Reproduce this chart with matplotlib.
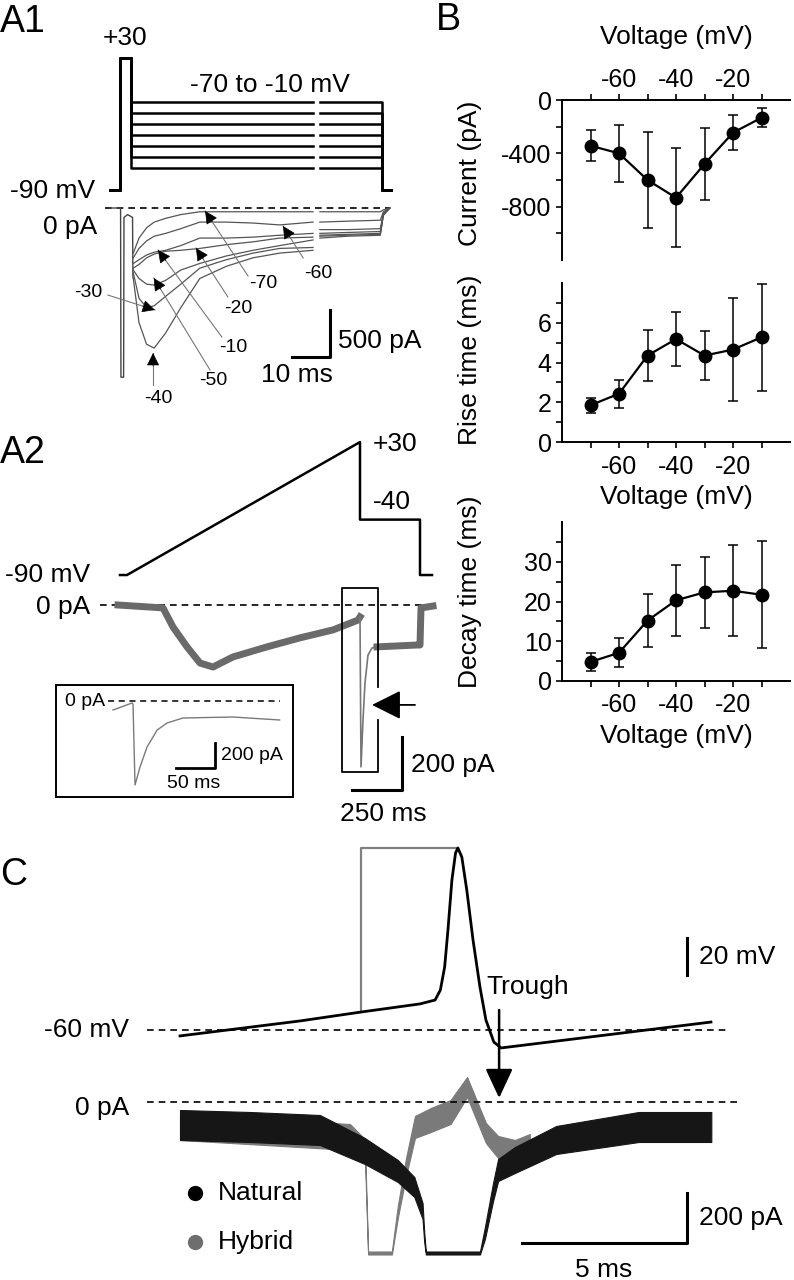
import matplotlib
matplotlib.use('Agg')
import matplotlib.pyplot as plt
import numpy as np

plt.rcParams['font.family'] = ['Liberation Sans', 'DejaVu Sans']
plt.rcParams['font.size'] = 19
plt.rcParams['axes.unicode_minus'] = False

W, H = 794, 1280

# ---------------- B: summary data (mean +- sd) ----------------
volts = [-70, -60, -50, -40, -30, -20, -10]
peak_current = [-343, -400, -600, -733, -480, -245, -133]
peak_current_sd = [118, 212, 357, 370, 270, 130, 70]
rise_time = [1.85, 2.43, 4.35, 5.18, 4.35, 4.65, 5.27]
rise_time_sd = [0.38, 0.70, 1.30, 1.34, 1.22, 2.58, 2.70]
decay_time = [4.8, 7.1, 15.2, 20.3, 22.3, 22.7, 21.7]
decay_time_sd = [2.3, 3.6, 6.7, 9.0, 8.9, 11.4, 13.4]

# ---------------- A1: step protocol (ms, mV) and currents (pA) ----------------
a1_steps = [-70, -60, -50, -40, -30, -20, -10]
a1_hold = -90
a1_pre = 30
a1_t_protocol = [-2.6, 0, 3, 50.8, 52.6, 69, 71.3]   # start, pre on, step on, break, resume, off, end
a1_transient_t = [-2.6, 0.15, 0.25, 0.95, 1.05, 2.0, 3.3, 3.4]
a1_transient_pa = [0, 0, -1800, -1800, -100, -70, -100, -740]
a1_t_early = [3.5, 5, 7, 9, 12, 16, 21, 28, 35, 42, 50.8]
a1_t_late = [52.6, 60, 68.5, 69.3, 71.0]
a1_early = {
    -70: [-480, -320, -210, -150, -110, -70, -40, -40, -40, -40, -40],
    -60: [-530, -430, -350, -300, -270, -220, -150, -150, -160, -180, -150],
    -20: [-590, -550, -500, -470, -450, -400, -320, -320, -310, -290, -270],
    -10: [-640, -600, -530, -490, -460, -450, -430, -390, -360, -320, -310],
    -50: [-660, -750, -810, -820, -770, -660, -590, -510, -450, -400, -340],
    -30: [-690, -960, -1060, -1040, -940, -810, -640, -550, -480, -430, -420],
    -40: [-750, -1220, -1450, -1490, -1330, -1060, -750, -620, -530, -480, -450],
}
a1_late = {
    -70: [-40, -40, -40, -20, 0],
    -60: [-150, -140, -130, -40, 0],
    -20: [-230, -230, -220, -60, 0],
    -10: [-270, -260, -250, -60, 0],
    -50: [-290, -280, -270, -70, 0],
    -30: [-300, -290, -280, -70, 0],
    -40: [-320, -300, -290, -80, 0],
}
# label text position, leader start, arrow tip (ms, pA)
a1_labels = [
    ('-70', (37.6, -800), (33.7, -724), (22.4, -32)),
    ('-60', (52.1, -692), (48.2, -532), (42.9, -192)),
    ('-20', (31.1, -1064), (28.4, -947), (20.0, -426)),
    ('-10', (29.7, -1479), (26.8, -1373), (10.0, -447)),
    ('-50', (24.5, -1830), (23.7, -1724), (8.9, -745)),
    ('-30', (-8.4, -904), (-3.2, -926), (9.2, -1085)),
    ('-40', (10.0, -2022), (8.7, -1883), (8.7, -1543)),
]

# ---------------- A2: ramp protocol and current ----------------
a2_t_protocol = [-35, 0, 1165, 1165, 1465, 1465, 1525]
a2_v_protocol = [-90, -90, 30, -40, -40, -90, -90]
a2_t_ramp = [-45, 180, 230, 300, 365, 430, 530, 700, 865, 1030, 1155, 1165]
a2_pa_ramp = [0, -11, -83, -158, -219, -234, -196, -158, -124, -94, -57, -45]
a2_t_spike = [1165, 1170, 1180, 1190, 1205, 1225, 1250]
a2_pa_spike = [-45, -611, -434, -294, -189, -162, -158]
a2_t_tail = [1250, 1450, 1465, 1470, 1530]
a2_pa_tail = [-158, -151, -151, -11, -4]
inset_t = [-25.6, -1.3, 0, 2.6, 9, 18, 31, 43.6, 64, 128, 188]
inset_pa = [-72, -16, -24, -672, -528, -368, -232, -176, -136, -128, -152]

# ---------------- C: voltage (ms, mV) and currents (ms, pA) ----------------
c_v_t = [0, 3.64, 5.48, 7.27, 7.73, 7.89, 8.02, 8.12, 8.24, 8.35, 8.42, 8.54,
         8.69, 8.88, 9.09, 9.27, 9.51, 9.73, 16.09]
c_v_mv = [-63.2, -55.1, -50.3, -45.9, -43.8, -38.4, -25.9, -5.9, 21.1, 35.7,
          38.4, 33.5, 15.7, -11.4, -36.8, -54.6, -66.5, -69.7, -55.7]
c_hyb_v_t = [5.48, 5.48, 8.42]
c_hyb_v_mv = [-50.3, 38.4, 38.4]
c_nat_t = [0, 2.12, 4.24, 5.6, 6.6, 7.1, 7.35, 7.4, 7.45, 9.09, 9.24,
           9.48, 9.64, 10.15, 11.4, 13.9, 16.1]
c_nat_pa = [-92, -100, -112, -196, -276, -340, -436, -540, -604, -604, -524,
            -364, -272, -232, -152, -100, -100]
c_nat_noise = [60, 60, 60, 52, 44, 40, 32, 20, 6, 6, 24, 36, 44, 52, 56, 60, 60]
c_hyb_t = [0, 5.15, 5.60, 5.70, 6.42, 6.6, 6.85, 7.12, 7.6, 8.2, 8.70, 9.27,
           9.64, 10.15, 10.6]
c_hyb_pa = [-100, -140, -180, -604, -604, -440, -260, -100, -72, -40, 60,
            -124, -180, -200, -180]
c_hyb_noise = [52, 52, 32, 6, 6, 24, 36, 44, 48, 48, 40, 40, 44, 48, 52]

fig = plt.figure(figsize=(W / 100, H / 100), dpi=100)


def trace_axes(box, x0, xs, y0, ys):
    # box in pixels (left, top, right, bottom); x0/y0 = pixel of data zero, xs/ys = px per unit
    l, t, r, b = box
    ax = fig.add_axes([l / W, 1 - b / H, (r - l) / W, (b - t) / H])
    ax.set_xlim((l - x0) / xs, (r - x0) / xs)
    ax.set_ylim((y0 - b) / ys, (y0 - t) / ys)
    ax.axis('off')
    return ax


def arrow_head(ax, start, tip, size=20):
    p0 = ax.transData.transform(start)
    p1 = ax.transData.transform(tip)
    u = (p0 - p1) / np.hypot(*(p0 - p1))
    back = ax.transData.inverted().transform(p1 + u * 13)
    ax.annotate('', xy=tip, xytext=back,
                arrowprops=dict(arrowstyle='-|>', color='k', lw=0.5,
                                mutation_scale=size, shrinkA=0, shrinkB=0))


dash = (0, (4, 3))

# ---------------- A1 ----------------
axv1 = trace_axes((100, 20, 400, 200), 120, 3.8, 91, 1.1)
tp = a1_t_protocol
for v in a1_steps:
    axv1.plot([tp[0], tp[1], tp[1], tp[2], tp[2], tp[3]],
              [a1_hold, a1_hold, a1_pre, a1_pre, v, v], color='k', lw=1.8)
    axv1.plot([tp[4], tp[5], tp[5], tp[6]], [v, v, a1_hold, a1_hold], color='k', lw=1.8)
axv1.text(1.3, 48, '+30', ha='center', va='center')
axv1.text(39.5, 5.5, '-70 to -10 mV', ha='center', va='center')
axv1.text(-6.6, -91, '-90 mV', ha='right', va='center')

axi1 = trace_axes((100, 200, 400, 410), 120, 3.8, 208, 0.094)
axi1.plot([-3.9, 71], [0, 0], color='k', lw=1.2, ls=dash)
axi1.plot(a1_transient_t, a1_transient_pa, color='#444444', lw=1.0)
for v in a1_steps:
    axi1.plot(a1_t_early, a1_early[v], color='#555555', lw=0.9)
    axi1.plot(a1_t_late, a1_late[v], color='#555555', lw=0.9)
for lab, txt, lead, tip in a1_labels:
    axi1.text(txt[0], txt[1], lab, fontsize=14, ha='center', va='center')
    axi1.plot([lead[0], tip[0]], [lead[1], tip[1]], color='#777777', lw=0.8)
    arrow_head(axi1, lead, tip)
axi1.text(-6.1, -200, '0 pA', ha='right', va='center')
axi1.plot([45.3, 55.3, 55.3], [-1585, -1585, -1085], color='k', lw=2.2)
axi1.text(57.4, -1420, '500 pA', ha='left', va='center')
axi1.text(46.6, -1777, '10 ms', ha='center', va='center')

# ---------------- A2 ----------------
axv2 = trace_axes((90, 420, 480, 590), 127, 0.2, 475.3, 1.108)
axv2.plot(a2_t_protocol, a2_v_protocol, color='k', lw=1.8)
axv2.text(1230, 28, '+30', ha='left', va='center')
axv2.text(1230, -24, '-40', ha='left', va='center')
axv2.text(-185, -90, '-90 mV', ha='right', va='center')

axi2 = trace_axes((90, 580, 480, 830), 127, 0.2, 605, 0.265)
axi2.plot([-135, 1490], [0, 0], color='k', lw=1.2, ls=dash)
axi2.plot(a2_t_ramp, a2_pa_ramp, color='#6a6a6a', lw=5)
axi2.plot(a2_t_spike, a2_pa_spike, color='#777777', lw=1.2)
axi2.plot(a2_t_tail, a2_pa_tail, color='#6a6a6a', lw=5)
axi2.text(-185, -7, '0 pA', ha='right', va='center')
# box around the spike, right side open where the arrow enters
bx0, bx1, by0, by1 = 1075, 1255, 64, -630
axi2.plot([bx1, bx1, bx0, bx0, bx1, bx1], [-309, by0, by0, by1, by1, -434],
          color='k', lw=1.3, clip_on=False)
axi2.annotate('', xy=(1225, -377), xytext=(1440, -377),
              arrowprops=dict(arrowstyle='-|>,head_length=0.6,head_width=0.3',
                              color='k', lw=1.3, mutation_scale=30, shrinkA=0, shrinkB=0))
axi2.plot([1125, 1375, 1375], [-698, -698, -498], color='k', lw=2.2)
axi2.text(1420, -603, '200 pA', ha='left', va='center')
axi2.text(1280, -788, '250 ms', ha='center', va='center')

# inset
axin = fig.add_axes([56 / W, 1 - 797 / H, 237 / W, 112 / H])
axin.set_xlim((56 - 133) / 0.78, (293 - 133) / 0.78)
axin.set_ylim((701 - 797) / 0.125, (701 - 685) / 0.125)
axin.set_xticks([])
axin.set_yticks([])
axin.patch.set_alpha(0)
for s in axin.spines.values():
    s.set_linewidth(1.4)
axin.plot([-32, 188], [0, 0], color='k', lw=1.1, ls=dash)
axin.plot(inset_t, inset_pa, color='#7a7a7a', lw=1.0)
axin.text(-36, 0, '0 pA', fontsize=14, ha='right', va='center')
axin.plot([54.5, 105, 105], [-536, -536, -336], color='k', lw=2.0)
axin.text(113, -432, '200 pA', fontsize=14, ha='left', va='center')
axin.text(78, -656, '50 ms', fontsize=14, ha='center', va='center')

# ---------------- B ----------------
def summary_axes(top, bottom):
    ax = fig.add_axes([562 / W, 1 - bottom / H, 228 / W, (bottom - top) / H])
    ax.set_xlim(-80, 0)
    ax.set_xticks([-60, -40, -20])
    ax.set_xticks([-70, -50, -30, -10], minor=True)
    ax.tick_params(which='both', direction='out', length=4, width=1.2, labelsize=18)
    for s in ax.spines.values():
        s.set_linewidth(1.4)
    ax.patch.set_alpha(0)
    return ax


ebkw = dict(fmt='-o', color='k', ms=9, lw=1.6, elinewidth=1.1,
            capsize=3.5, capthick=1.1, clip_on=False)

axI = summary_axes(100, 260)
axI.errorbar(volts, peak_current, yerr=peak_current_sd, **ebkw)
axI.set_ylim(-1200, 0)
axI.set_yticks([-800, -400, 0])
axI.set_yticks([-1000, -600, -200], minor=True)
axI.spines['bottom'].set_visible(False)
axI.spines['right'].set_visible(False)
axI.xaxis.tick_top()
axI.xaxis.set_label_position('top')
axI.tick_params(axis='x', which='both', pad=2)
axI.set_xlabel('Voltage (mV)', fontsize=19, labelpad=17)
axI.set_ylabel('Current (pA)', fontsize=19)
axI.yaxis.set_label_coords(-0.35, 0.54)

axR = summary_axes(283, 442)
axR.errorbar(volts, rise_time, yerr=rise_time_sd, **ebkw)
axR.set_ylim(0, 8)
axR.set_yticks([0, 2, 4, 6])
axR.set_yticks([1, 3, 5, 7], minor=True)
axR.spines['top'].set_visible(False)
axR.spines['right'].set_visible(False)
axR.tick_params(axis='x', which='both', pad=5)
axR.set_xlabel('Voltage (mV)', fontsize=19, labelpad=5)
axR.set_ylabel('Rise time (ms)', fontsize=19)
axR.yaxis.set_label_coords(-0.35, 0.52)

axD = summary_axes(522, 681)
axD.errorbar(volts, decay_time, yerr=decay_time_sd, **ebkw)
axD.set_ylim(0, 40)
axD.set_yticks([0, 10, 20, 30])
axD.set_yticks([5, 15, 25, 35], minor=True)
axD.spines['top'].set_visible(False)
axD.spines['right'].set_visible(False)
axD.tick_params(axis='x', which='both', pad=5)
axD.set_xlabel('Voltage (mV)', fontsize=19, labelpad=5)
axD.set_ylabel('Decay time (ms)', fontsize=19)
axD.yaxis.set_label_coords(-0.35, 0.56)

# ---------------- C ----------------
axvc = trace_axes((100, 830, 794, 1065), 180, 33, 919, 1.85)
axvc.plot([-1, 16.6], [-60, -60], color='k', lw=1.2, ls=dash)
axvc.plot(c_hyb_v_t, c_hyb_v_mv, color='#808080', lw=1.6)
axvc.plot(c_v_t, c_v_mv, color='k', lw=2.0)
axvc.text(-1.55, -60, '-60 mV', ha='right', va='center')
axvc.text(9.27, -36.8, 'Trough', ha='left', va='center')
axvc.plot([15.36, 15.36], [-30.3, -10.3], color='k', lw=2.2)
axvc.text(15.73, -20.3, '20 mV', ha='left', va='center')

axic = trace_axes((100, 1065, 794, 1280), 180, 33, 1102, 0.25)
axic.plot([-1, 16.9], [0, 0], color='k', lw=1.2, ls=dash)
hyb_pa = np.array(c_hyb_pa)
hyb_n = np.array(c_hyb_noise)
axic.fill_between(c_hyb_t, hyb_pa - hyb_n, hyb_pa + hyb_n, color='#7a7a7a', lw=0.8)
nat_pa = np.array(c_nat_pa)
nat_n = np.array(c_nat_noise)
axic.fill_between(c_nat_t, nat_pa - nat_n, nat_pa + nat_n, color='#161616', lw=0.8)
axic.text(-1.55, -24, '0 pA', ha='right', va='center')
axic.annotate('', xy=(9.67, 16), xytext=(9.67, 368), annotation_clip=False,
              arrowprops=dict(arrowstyle='-|>,head_length=0.6,head_width=0.28',
                              color='k', lw=1.8, mutation_scale=30, shrinkA=0, shrinkB=0))
axic.plot([10.36, 15.36, 15.36], [-564, -564, -364], color='k', lw=2.2)
axic.text(15.73, -464, '200 pA', ha='left', va='center')
axic.text(12.85, -672, '5 ms', ha='center', va='center')
axic.plot([0.45], [-364], 'o', color='k', ms=10)
axic.plot([0.45], [-560], 'o', color='#6e6e6e', ms=10)
axic.text(1.15, -364, 'Natural', ha='left', va='center')
axic.text(1.15, -560, 'Hybrid', ha='left', va='center')

# panel letters
for lab, x, y in [('A1', 0, 32), ('A2', 0, 463), ('B', 436, 30), ('C', 0, 885)]:
    fig.text(x / W, 1 - y / H, lab, fontsize=27, ha='left', va='baseline')

fig.savefig('out.png', dpi=100)
